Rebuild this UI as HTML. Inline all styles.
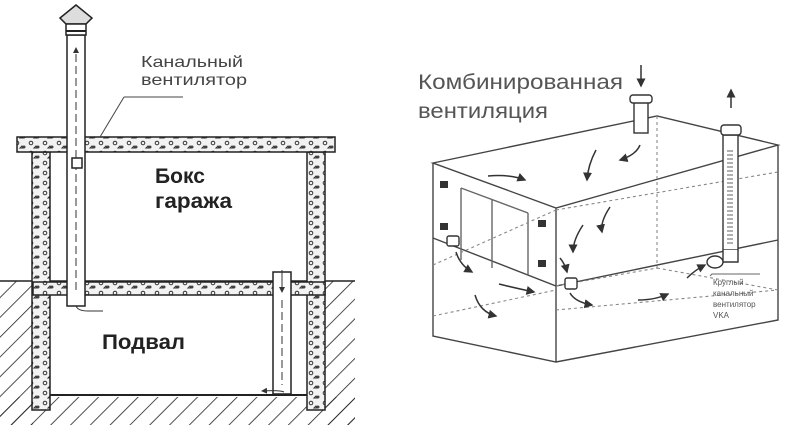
<!DOCTYPE html>
<html><head><meta charset="utf-8"><style>
html,body{margin:0;padding:0;background:#fff;width:800px;height:425px;overflow:hidden}
svg{display:block}
text{font-family:"Liberation Sans",sans-serif}
</style></head><body>
<svg width="800" height="425" viewBox="0 0 800 425" xmlns="http://www.w3.org/2000/svg">
<defs>
<pattern id="h" width="14" height="14" patternUnits="userSpaceOnUse" patternTransform="rotate(45)">
<line x1="0" y1="0" x2="0" y2="14" stroke="#222" stroke-width="1.6"/></pattern>
<pattern id="c" width="14" height="10" patternUnits="userSpaceOnUse">
<rect width="14" height="10" fill="#f2f2f2"/>
<circle cx="3" cy="3" r="1.8" fill="none" stroke="#333" stroke-width="1"/>
<circle cx="10" cy="7" r="1.5" fill="#444"/>
<path d="M6 8 l2 -2 l1 2z" fill="none" stroke="#333"/>
</pattern>
<marker id="a" markerWidth="6" markerHeight="6" refX="5" refY="3" orient="auto"><path d="M0,0 L6,3 L0,6z" fill="#333"/></marker>
</defs>
<rect width="800" height="425" fill="#fff"/>
<rect x="0" y="281" width="33" height="144" fill="url(#h)"/>
<rect x="325" y="281" width="30" height="144" fill="url(#h)"/>
<rect x="0" y="397" width="355" height="28" fill="url(#h)"/>
<line x1="0" y1="281" x2="355" y2="281" stroke="#222" stroke-width="1.5"/>
<rect x="50" y="295" width="257" height="100" fill="#fff"/>
<line x1="50" y1="395" x2="307" y2="395" stroke="#222" stroke-width="2"/>
<rect x="32" y="152" width="18" height="258" fill="url(#c)" stroke="#222" stroke-width="1.5"/>
<rect x="307" y="152" width="18" height="258" fill="url(#c)" stroke="#222" stroke-width="1.5"/>
<rect x="17" y="137" width="318" height="15" fill="url(#c)" stroke="#222" stroke-width="1.5"/>
<rect x="33" y="282" width="292" height="13" fill="url(#c)" stroke="#222" stroke-width="1.5"/>
<rect x="67" y="35" width="18" height="271" fill="#fff" stroke="#222" stroke-width="1.5"/>
<path d="M60 18 L76 5 L92 18 L86 24 L66 24 Z" fill="#ddd" stroke="#222" stroke-width="1.5"/>
<rect x="66" y="24" width="20" height="11" fill="#fff" stroke="#222" stroke-width="1.5"/>
<line x1="66" y1="31" x2="86" y2="31" stroke="#222" stroke-width="2"/>
<line x1="76" y1="290" x2="76" y2="48" stroke="#333" stroke-dasharray="8 4" marker-end="url(#a)"/>
<rect x="72" y="158" width="10" height="10" fill="#fff" stroke="#222" stroke-width="1.5"/>
<path d="M76 306 Q78 311 88 311 L103 311" fill="none" stroke="#333"/>
<rect x="273" y="272" width="18" height="122" fill="#fff" stroke="#222" stroke-width="1.5"/>
<line x1="282" y1="270" x2="282" y2="292" stroke="#333" marker-end="url(#a)"/>
<line x1="282" y1="300" x2="282" y2="385" stroke="#333" stroke-dasharray="8 4"/>
<path d="M284 392 Q280 390 262 391" fill="none" stroke="#333" marker-end="url(#a)"/>
<line x1="183" y1="97" x2="124" y2="97" stroke="#444"/>
<line x1="124" y1="97" x2="100" y2="137" stroke="#444"/>
<text x="141" y="67" font-size="16" fill="#444" textLength="102" lengthAdjust="spacingAndGlyphs">Канальный</text>
<text x="141" y="85" font-size="16" fill="#444" textLength="106" lengthAdjust="spacingAndGlyphs">вентилятор</text>
<text x="155" y="183" font-size="21" font-weight="bold" fill="#222" textLength="50" lengthAdjust="spacingAndGlyphs">Бокс</text>
<text x="155" y="208" font-size="21" font-weight="bold" fill="#222" textLength="77" lengthAdjust="spacingAndGlyphs">гаража</text>
<text x="102" y="349" font-size="21" font-weight="bold" fill="#222" textLength="83" lengthAdjust="spacingAndGlyphs">Подвал</text>

<text x="418" y="89" font-size="21" fill="#555" textLength="205" lengthAdjust="spacingAndGlyphs">Комбинированная</text>
<text x="418" y="118" font-size="21" fill="#555" textLength="130" lengthAdjust="spacingAndGlyphs">вентиляция</text>
<g fill="none" stroke="#444" stroke-width="1.4">
<path d="M433 163 L657 116 L778 145 L556 208 Z"/>
<path d="M433 163 L433 336 L556 362 L778 320 L778 145"/>
<line x1="556" y1="208" x2="556" y2="362"/>
<path d="M433 238 L556 286 L778 240"/>
<path d="M461 188 L461 260 M528 213 L528 275 M461 188 L528 213 M492 200 L492 268" stroke="#666"/>
</g>
<g fill="none" stroke="#888" stroke-width="1.1" stroke-dasharray="3 3">
<line x1="657" y1="116" x2="657" y2="270"/>
<path d="M556 210 L778 172"/>
<path d="M433 265 L556 210"/>
<path d="M556 310 L778 290"/>
<path d="M433 316 L556 290"/>
<path d="M657 268 L778 290"/>
<path d="M556 286 L657 268"/>
</g>
<g fill="#333">
<rect x="440" y="181" width="8" height="7"/><rect x="440" y="223" width="8" height="7"/>
<rect x="538" y="220" width="8" height="7"/><rect x="538" y="260" width="8" height="7"/>
</g>
<g fill="#fff" stroke="#333" stroke-width="1.4">
<rect x="447" y="236" width="12" height="10" rx="2"/>
<rect x="565" y="278" width="12" height="11" rx="2"/>
<rect x="634" y="100" width="14" height="33"/>
<rect x="630" y="95" width="22" height="8" rx="3"/>
<rect x="723" y="135" width="15" height="115"/>
<rect x="721" y="125" width="20" height="10" rx="3"/>
<path d="M723 250 L723 262 L738 262 L738 250"/>
<ellipse cx="715" cy="262" rx="8" ry="6"/>
</g>
<line x1="730" y1="150" x2="730" y2="245" stroke="#666" stroke-dasharray="2 2" stroke-width="6" opacity="0.5"/>
<g stroke="#333" stroke-width="1.5" fill="none" marker-end="url(#a)">
<line x1="641" y1="65" x2="641" y2="86"/>
<line x1="731" y1="108" x2="731" y2="90"/>
<path d="M640 145 Q636 155 620 160"/>
<path d="M596 150 Q588 165 587 180"/>
<path d="M488 176 Q510 174 525 180"/>
<path d="M610 207 Q600 222 602 232"/>
<path d="M583 225 Q573 240 573 252"/>
<path d="M560 258 Q565 264 567 272"/>
<path d="M456 252 Q460 265 472 272"/>
<path d="M499 284 Q515 288 534 292"/>
<path d="M475 295 Q480 312 496 316"/>
<path d="M570 293 Q575 302 592 305"/>
<path d="M638 300 Q655 300 668 294"/>
<path d="M687 278 Q695 270 705 265"/>
</g>
<path d="M710 276 L712 274 L760 274" stroke="#666" fill="none"/>
<text x="713" y="285" font-size="8" fill="#555">Круглый</text>
<text x="713" y="296" font-size="8" fill="#555">канальный</text>
<text x="713" y="307" font-size="8" fill="#555">вентилятор</text>
<text x="713" y="318" font-size="8" fill="#555">VKA</text>
</svg>
</body></html>
